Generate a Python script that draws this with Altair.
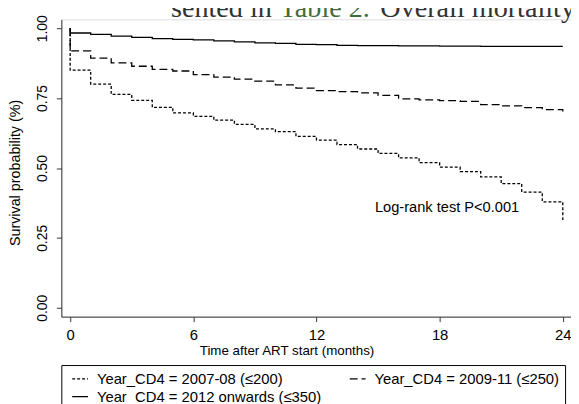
import altair as alt
import pandas as pd

# ---- data (Kaplan-Meier step levels, monthly) ----
groups = ["Year_CD4 = 2007-08 (≤200)", "Year_CD4 = 2009-11 (≤250)", "Year_CD4 = 2012 onwards (≤350)"]
dashes = [[3, 2], [8, 4], [1, 0]]
legend_order = [0, 2, 1]  # legend grid fills column by column
months = list(range(0, 25))
surv_2007 = [0.850, 0.800, 0.763, 0.742, 0.717, 0.697, 0.685, 0.671, 0.656, 0.640,
             0.630, 0.613, 0.600, 0.584, 0.568, 0.552, 0.536, 0.519, 0.503, 0.487,
             0.468, 0.444, 0.414, 0.379, 0.310]
surv_2009 = [0.919, 0.893, 0.876, 0.864, 0.853, 0.847, 0.834, 0.825, 0.818, 0.811,
             0.797, 0.786, 0.777, 0.773, 0.769, 0.760, 0.747, 0.744, 0.741, 0.738,
             0.727, 0.722, 0.716, 0.709, 0.702]
surv_2012 = [0.983, 0.978, 0.972, 0.967, 0.963, 0.960, 0.958, 0.955, 0.951, 0.948,
             0.946, 0.942, 0.941, 0.939, 0.938, 0.938, 0.937, 0.937, 0.936, 0.936,
             0.935, 0.935, 0.935, 0.935, 0.935]
start_value = 1.0
x_ticks = [0, 6, 12, 18, 24]
y_ticks = [0.0, 0.25, 0.5, 0.75, 1.0]
annotation = "Log-rank test P<0.001"
annot_x, annot_y = 14.85, 0.357

rows = []
for g, vals in zip(groups, [surv_2007, surv_2009, surv_2012]):
    order = 0
    rows.append({"group": g, "t": 0, "s": start_value, "o": order})
    for t, v in zip(months, vals):
        order += 1
        rows.append({"group": g, "t": t, "s": v, "o": order})
    order += 1
    rows.append({"group": g, "t": months[-1], "s": vals[-1], "o": order})
df = pd.DataFrame(rows)

FONT = "Arial"

x_scale = alt.Scale(domain=[-0.43, 24.4], nice=False, zero=False)
y_scale = alt.Scale(domain=[-0.0318, 1.0318], nice=False, zero=False)

lines = alt.Chart(df).mark_line(interpolate="step-after", color="black", strokeWidth=1.3).encode(
    x=alt.X("t:Q", scale=x_scale,
            axis=alt.Axis(values=x_ticks, title="Time after ART start (months)", grid=False,
                          tickSize=5, labelPadding=6, labelFontSize=15, labelFont=FONT,
                          labelColor="black", domainColor="#333", tickColor="#333",
                          titleFont=FONT, titleFontSize=13.5, titleFontWeight="normal",
                          titleColor="black", titleX=228, titleY=34, titleBaseline="middle",
                          titleAlign="center", format="d")),
    y=alt.Y("s:Q", scale=y_scale,
            axis=alt.Axis(values=y_ticks, title="Survival probability (%)", grid=False,
                          tickSize=5, labelPadding=7, labelFontSize=14, labelFont=FONT,
                          labelAngle=270, labelAlign="center", labelBaseline="bottom",
                          labelColor="black", domainColor="#333", tickColor="#333",
                          format=".2f", titleFont=FONT, titleFontSize=14.5,
                          titleFontWeight="normal", titleColor="black", titleAngle=270,
                          titleX=-46, titleY=155, titleAlign="center", titleBaseline="middle")),
    strokeDash=alt.StrokeDash(
        "group:N",
        scale=alt.Scale(domain=[groups[i] for i in legend_order],
                        range=[dashes[i] for i in legend_order]),
        legend=alt.Legend(title=None, orient="none", legendX=0, legendY=350, columns=2,
                          symbolType="stroke", symbolSize=256, symbolStrokeWidth=1.3,
                          symbolStrokeColor="black", symbolOffset=5, labelOffset=8,
                          labelFont=FONT, labelFontSize=15, labelColor="black",
                          columnPadding=22, rowPadding=1, padding=5,
                          strokeColor="black", labelLimit=400)),
    order="o:Q",
)

logrank = alt.Chart(pd.DataFrame({"t": [annot_x], "s": [annot_y], "label": [annotation]})).mark_text(
    align="left", baseline="middle", font=FONT, fontSize=14.8, color="black"
).encode(x=alt.X("t:Q", scale=x_scale), y=alt.Y("s:Q", scale=y_scale), text="label:N")

top_parts = ["sented in", "Table 2.", "Overall mortality"]
top_colors = ["#333333", "#3f6e3a", "#333333"]
top_x = [111, 221, 323]
top_layers = [
    alt.Chart(pd.DataFrame({"txt": [txt]})).mark_text(
        align="left", baseline="alphabetic", font="Liberation Serif", fontSize=28.5, color=c
    ).encode(x=alt.value(xp), y=alt.value(-2), text="txt:N")
    for txt, c, xp in zip(top_parts, top_colors, top_x)
]

chart = alt.layer(lines, logrank, *top_layers).properties(
    width=516, height=301,
    padding={"left": 54, "top": 9, "right": 0, "bottom": 90},
    autosize=alt.AutoSizeParams(type="none"),
).configure_view(stroke=None).configure(background="white")

chart.save("out.html", embed_options={"renderer": "svg", "actions": False})
